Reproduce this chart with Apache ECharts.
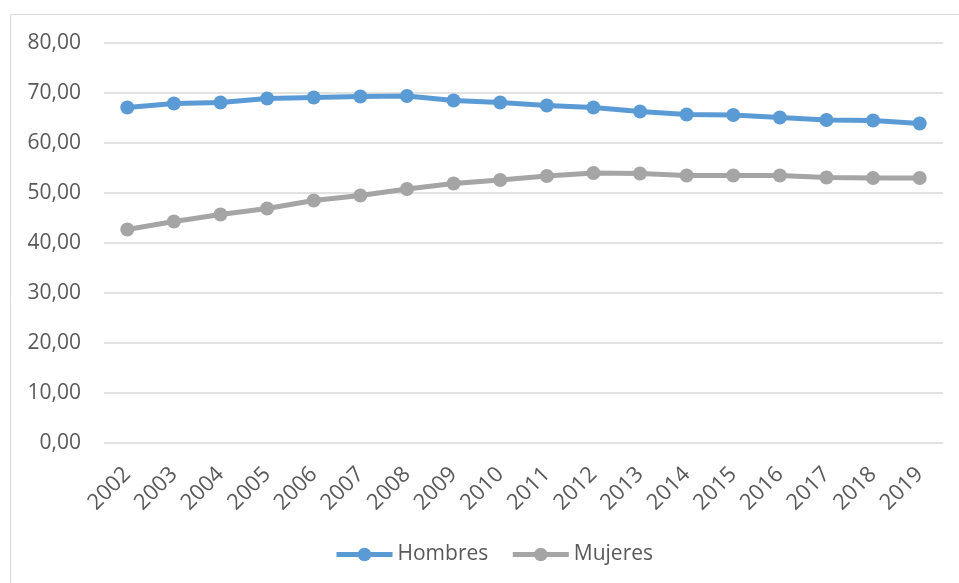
<!DOCTYPE html>
<html>
<head>
<meta charset="utf-8">
<script src="https://cdn.jsdelivr.net/npm/echarts@6/dist/echarts.min.js"></script>
<style>
html,body{margin:0;padding:0;background:#fff;}
#main{width:959px;height:583px;}
</style>
</head>
<body>
<div id="main"></div>
<script>
var years = ['2002','2003','2004','2005','2006','2007','2008','2009','2010','2011','2012','2013','2014','2015','2016','2017','2018','2019'];
var hombres = [67.1,67.9,68.1,68.9,69.1,69.3,69.4,68.5,68.1,67.5,67.1,66.3,65.7,65.6,65.1,64.6,64.5,63.9];
var mujeres = [42.7,44.3,45.7,46.9,48.5,49.5,50.8,51.9,52.6,53.4,54.0,53.9,53.5,53.5,53.5,53.1,53.0,53.0];
var yTicks = {min:0, max:80, interval:10};

var chart = echarts.init(document.getElementById('main'));
var font = 'Open Sans';
chart.setOption({
  animation:false,
  backgroundColor:'#fff',
  graphic:[{type:'rect', shape:{x:10.5,y:14.5,width:960,height:600}, style:{fill:'none',stroke:'#d9d9d9',lineWidth:1}, silent:true}],
  grid:{left:104,right:16,top:43,bottom:140,containLabel:false},
  legend:{
    bottom:13, left:329,
    itemWidth:56, itemHeight:17, itemGap:22,
    lineStyle:{width:5},
    textStyle:{color:'#595959',fontSize:21,fontFamily:font,padding:[0,0,0,0]},
    data:['Hombres','Mujeres']
  },
  xAxis:{
    type:'category', data:years, boundaryGap:true,
    axisLine:{show:false}, axisTick:{show:false},
    axisLabel:{rotate:45, color:'#595959', fontSize:22, fontFamily:font, margin:28, interval:0}
  },
  yAxis:{
    type:'value', min:yTicks.min, max:yTicks.max, interval:yTicks.interval,
    axisLine:{show:false}, axisTick:{show:false},
    splitLine:{lineStyle:{color:'#d9d9d9',width:1.5}},
    axisLabel:{color:'#595959', fontSize:21, fontFamily:font, margin:23,
      formatter:function(v){return v.toFixed(2).replace('.',',');}}
  },
  series:[
    {name:'Hombres', type:'line', data:hombres, symbol:'circle', symbolSize:14,
     lineStyle:{color:'#5B9BD5',width:5}, itemStyle:{color:'#5B9BD5'}},
    {name:'Mujeres', type:'line', data:mujeres, symbol:'circle', symbolSize:14,
     lineStyle:{color:'#A5A5A5',width:5}, itemStyle:{color:'#A5A5A5'}}
  ]
});
</script>
</body>
</html>
